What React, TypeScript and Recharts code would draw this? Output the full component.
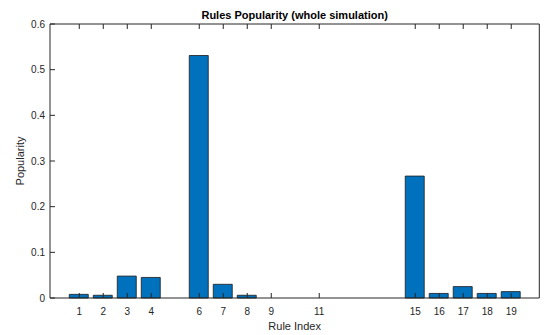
import { BarChart, Bar, XAxis, YAxis } from "recharts"

// rules that were fired at least once in the run, and how often
const ruleIndex = [1, 2, 3, 4, 6, 7, 8, 9, 11, 15, 16, 17, 18, 19]
const popularity = [0.008, 0.006, 0.048, 0.045, 0.531, 0.03, 0.006, 0, 0, 0.267, 0.01, 0.025, 0.01, 0.014]
const yTicks = [0, 0.1, 0.2, 0.3, 0.4, 0.5, 0.6]

const data = ruleIndex.map((rule, i) => ({ rule, popularity: popularity[i] }))

const AXIS = "#262626"
const FONT = "'Liberation Sans', Arial, Helvetica, sans-serif"
const TICK_LEN = 5
const X_DOMAIN = [-0.22, 20.17]

// MATLAB-style inward ticks: each custom tick draws its own little mark
const BottomTick = (props: any) => {
  const { x, y, payload } = props
  return (
    <g>
      <line x1={x} x2={x} y1={y} y2={y - TICK_LEN} stroke={AXIS} strokeWidth={1} />
      <text x={x} y={y + 17} textAnchor="middle" fontSize={10} fontFamily={FONT} fill={AXIS}>
        {payload.value}
      </text>
    </g>
  )
}

const TopTick = (props: any) => {
  const { x, y } = props
  return <line x1={x} x2={x} y1={y} y2={y + TICK_LEN} stroke={AXIS} strokeWidth={1} />
}

const LeftTick = (props: any) => {
  const { x, y, payload } = props
  return (
    <g>
      <line x1={x} x2={x + TICK_LEN} y1={y} y2={y} stroke={AXIS} strokeWidth={1} />
      <text x={x - 5} y={y + 3.6} textAnchor="end" fontSize={10} fontFamily={FONT} fill={AXIS}>
        {payload.value}
      </text>
    </g>
  )
}

const RightTick = (props: any) => {
  const { x, y } = props
  return <line x1={x} x2={x - TICK_LEN} y1={y} y2={y} stroke={AXIS} strokeWidth={1} />
}

export default function App() {
  return (
    <div style={{ position: "absolute", left: 0, top: 0, background: "#fff" }}>
      <BarChart
        width={544}
        height={335}
        data={data}
        margin={{ top: 23, right: 3.7, bottom: 0, left: 0 }}
        barSize={19}
      >
        <XAxis
          dataKey="rule"
          type="number"
          domain={X_DOMAIN}
          ticks={ruleIndex}
          interval={0}
          allowDataOverflow
          height={37}
          tickLine={false}
          tickSize={0}
          tickMargin={0}
          tick={BottomTick}
          axisLine={{ stroke: AXIS, strokeWidth: 1 }}
          label={{
            value: "Rule Index",
            position: "insideBottom",
            offset: 5,
            fontSize: 11,
            fontFamily: FONT,
            fill: AXIS,
          }}
        />
        <XAxis
          xAxisId="top"
          dataKey="rule"
          type="number"
          orientation="top"
          domain={X_DOMAIN}
          ticks={ruleIndex}
          interval={0}
          allowDataOverflow
          height={1}
          tickLine={false}
          tickSize={0}
          tickMargin={0}
          tick={TopTick}
          axisLine={{ stroke: AXIS, strokeWidth: 1 }}
          label={{
            value: "Rules Popularity (whole simulation)",
            position: "top",
            offset: 4,
            fontSize: 11,
            fontWeight: "bold",
            fontFamily: FONT,
            fill: "#000",
          }}
        />
        <YAxis
          type="number"
          domain={[0, 0.6]}
          ticks={yTicks}
          interval={0}
          width={50}
          tickLine={false}
          tickSize={0}
          tickMargin={0}
          tick={LeftTick}
          axisLine={{ stroke: AXIS, strokeWidth: 1 }}
          label={{
            value: "Popularity",
            position: "insideLeft",
            angle: -90,
            offset: 20,
            fontSize: 11,
            fontFamily: FONT,
            fill: AXIS,
            style: { textAnchor: "middle" },
          }}
        />
        <YAxis
          yAxisId="right"
          type="number"
          orientation="right"
          domain={[0, 0.6]}
          ticks={yTicks}
          interval={0}
          width={1}
          tickLine={false}
          tickSize={0}
          tickMargin={0}
          tick={RightTick}
          axisLine={{ stroke: AXIS, strokeWidth: 1 }}
        />
        <Bar
          dataKey="popularity"
          fill="#0072BD"
          stroke="#1a1a1a"
          strokeWidth={0.8}
          isAnimationActive={false}
        />
      </BarChart>
    </div>
  )
}
